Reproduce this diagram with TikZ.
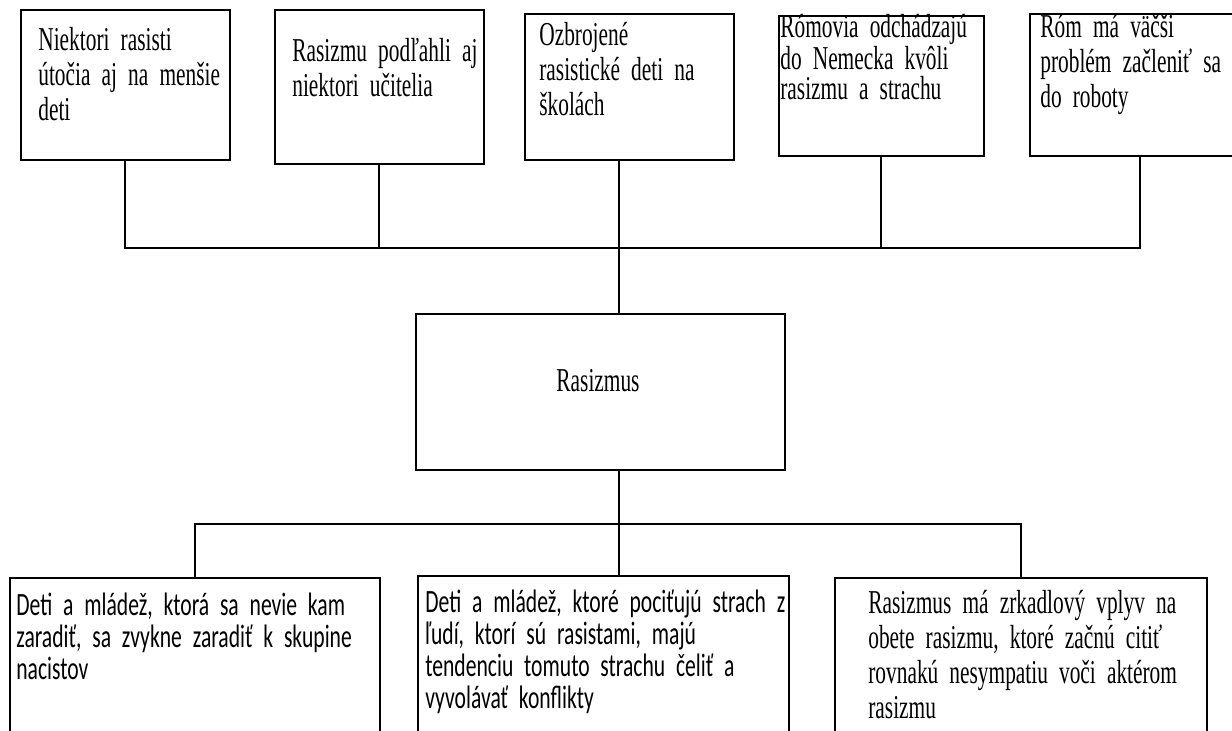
\documentclass[tikz,border=0pt]{standalone}
\usepackage{fontspec}
\setmainfont[FakeStretch=0.64]{Liberation Serif}
\newfontfamily\calfont[FakeStretch=0.665]{Carlito}
\newcommand\tightsp{\spaceskip=2.8pt plus 1pt\relax}
\begin{document}
\begin{tikzpicture}[x=0.02cm, y=-0.02cm,
  box/.style={draw, line width=0.9pt, anchor=north west, inner sep=0pt},
  txt/.style={anchor=base west, inner sep=0pt, text width=8cm, align=left,
    font=\fontsize{19}{20}\selectfont\tightsp},
  caltxt/.style={txt, font=\calfont\fontsize{18.5}{18.3}\selectfont\tightsp},
  link/.style={line width=0.9pt}]
  \useasboundingbox (0,0) rectangle (1232,731);
  \clip (0,0) rectangle (1232,731);
  % upper row
  \node[box, minimum width=4.18cm, minimum height=3cm] (b1) at (20,9) {};
  \node[box, minimum width=4.18cm, minimum height=3.08cm] (b2) at (274,9) {};
  \node[box, minimum width=4.18cm, minimum height=2.92cm] (b3) at (524,13) {};
  \node[box, minimum width=4.1cm, minimum height=2.8cm] (b4) at (778,15) {};
  \node[box, minimum width=4.4cm, minimum height=2.84cm] (b5) at (1029,13) {};
  \node[txt] (t1) at (38,50) {Niektori rasisti\\útočia aj na menšie\\deti};
  \node[txt] (t2) at (292,61) {Rasizmu podľahli aj\\niektori učitelia};
  \node[txt] (t3) at (539,45) {Ozbrojené\\rasistické deti na\\školách};
  \node[txt, font=\fontsize{19}{17.2}\selectfont\tightsp] (t4) at (780,37)
    {Rómovia odchádzajú\\do Nemecka kvôli\\rasizmu a strachu};
  \node[txt] (t5) at (1040,37) {Róm má väčši\\problém začleniť sa\\do roboty};
  % middle
  \node[box, minimum width=7.38cm, minimum height=3.12cm] (r) at (415,313) {};
  \node[font=\fontsize{19}{20}\selectfont] (rt) at (598,381) {Rasizmus};
  % lower row
  \node[box, minimum width=7.4cm, minimum height=4cm] (b6) at (9,577) {};
  \node[box, minimum width=7.42cm, minimum height=4cm] (b7) at (417,575) {};
  \node[box, minimum width=7.44cm, minimum height=4cm] (b8) at (834,577) {};
  \node[caltxt] (t6) at (16,615)
    {Deti a mládež, ktorá sa nevie kam\\zaradiť, sa zvykne zaradiť k skupine\\nacistov};
  \node[caltxt] (t7) at (425,612)
    {Deti a mládež, ktoré pociťujú strach z\\ľudí, ktorí sú rasistami, majú\\tendenciu tomuto strachu čeliť a\\vyvolávať konflikty};
  \node[txt] (t8) at (868,613)
    {Rasizmus má zrkadlový vplyv na\\obete rasizmu, ktoré začnú citiť\\rovnakú nesympatiu voči aktérom\\rasizmu};
  % connectors
  \coordinate (trunk) at (619,0);
  \coordinate (upbus) at (0,248);
  \coordinate (lowbus) at (0,524);
  \draw[link] (b1.south) -- (b1.south |- upbus) -- (b5.south |- upbus) -- (b5.south);
  \foreach \b in {b2,b4}{%
    \draw[link] (\b.south) -- (\b.south |- upbus);
  }
  \draw[link] (trunk |- b3.south) -- (trunk |- r.north);
  \draw[link] (trunk |- r.south) -- (trunk |- lowbus);
  \draw[link] (b6.north) -- (b6.north |- lowbus) -- (b8.north |- lowbus) -- (b8.north);
  \draw[link] (trunk |- b7.north) -- (trunk |- lowbus);
\end{tikzpicture}
\end{document}
